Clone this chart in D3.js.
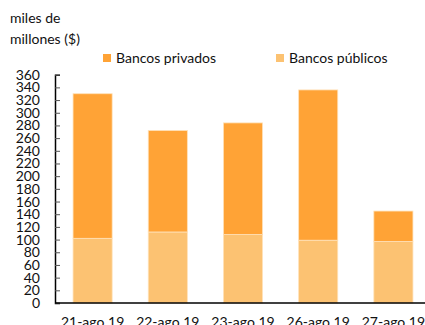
<!DOCTYPE html>
<html>
<head>
<meta charset="utf-8">
<script src="https://cdn.jsdelivr.net/npm/d3@7"></script>
<style>
  html, body { margin: 0; padding: 0; background: #fff; }
  svg { display: block; font-family: Lato, "Open Sans", sans-serif; }
</style>
</head>
<body>
<svg id="chart" width="425" height="325"></svg>
<script>
// Daily amounts, thousands of millions of pesos
const fechas = ["21-ago 19", "22-ago 19", "23-ago 19", "26-ago 19", "27-ago 19"];
const bancosPublicos = [102, 112, 108, 99, 97];
const bancosPrivados = [228, 160, 176, 237, 48];
const yTicks = d3.range(0, 361, 20);
const seriesNames = ["Bancos privados", "Bancos públicos"];
const seriesColors = ["#FFA336", "#FCC272"];

(function draw() {
  const svg = d3.select("#chart");
  const plotLeft = 55, plotBottom = 303, plotTop = 74.7;

  const rows = fechas.map((f, i) => ({ fecha: f, publicos: bancosPublicos[i], privados: bancosPrivados[i] }));
  const stacked = d3.stack().keys(["publicos", "privados"])(rows);

  const x = d3.scaleBand().domain(fechas).range([plotLeft, plotLeft + 5 * 75.2]).paddingInner(0.48).paddingOuter(0.24);
  const y = d3.scaleLinear().domain([0, 360]).range([plotBottom, plotTop]);
  const color = { publicos: seriesColors[1], privados: seriesColors[0] };

  // Bars
  svg.append("g").selectAll("g").data(stacked).join("g")
    .attr("fill", d => color[d.key])
    .selectAll("rect").data(d => d).join("rect")
    .attr("x", d => x(d.data.fecha))
    .attr("width", x.bandwidth())
    .attr("y", d => y(d[1]))
    .attr("height", d => y(d[0]) - y(d[1]))
    .attr("stroke", "#FFE2BA")
    .attr("stroke-width", 0.8);

  // Y axis with ticks pointing into the plot
  const yAxis = svg.append("g").attr("transform", `translate(${plotLeft},0)`)
    .call(d3.axisRight(y).tickValues(yTicks).tickSize(5).tickFormat(""));
  yAxis.select(".domain").attr("stroke", "#000").attr("stroke-width", 1.5);
  yAxis.selectAll(".tick line").attr("stroke", "#555");

  svg.append("g").selectAll("text").data(yTicks).join("text")
    .attr("x", 40).attr("y", d => y(d) + 5)
    .attr("text-anchor", "end")
    .attr("font-size", 14)
    .attr("fill", "#111")
    .text(d => d);

  // X axis
  const xAxis = svg.append("g").attr("transform", `translate(0,${plotBottom})`)
    .call(d3.axisBottom(x).tickSize(0).tickPadding(14));
  xAxis.select(".domain").attr("stroke", "#000").attr("stroke-width", 1.5)
    .attr("d", `M${plotLeft},0H425`);
  xAxis.selectAll("text").attr("font-size", 14).attr("fill", "#111")
    .attr("font-family", "Lato, 'Open Sans', sans-serif");

  // Unit label
  svg.append("text").attr("x", 10).attr("y", 23).attr("font-size", 14).attr("fill", "#111").text("miles de");
  svg.append("text").attr("x", 10).attr("y", 44).attr("font-size", 14).attr("fill", "#111").text("millones ($)");

  // Legend
  const legendX = [103, 276];
  const legend = svg.append("g").selectAll("g").data(seriesNames).join("g")
    .attr("transform", (d, i) => `translate(${legendX[i]},54)`);
  legend.append("rect").attr("width", 8).attr("height", 8).attr("fill", (d, i) => seriesColors[i]);
  legend.append("text").attr("x", 13).attr("y", 9).attr("font-size", 14).attr("fill", "#111").text(d => d);
})();
</script>
</body>
</html>
